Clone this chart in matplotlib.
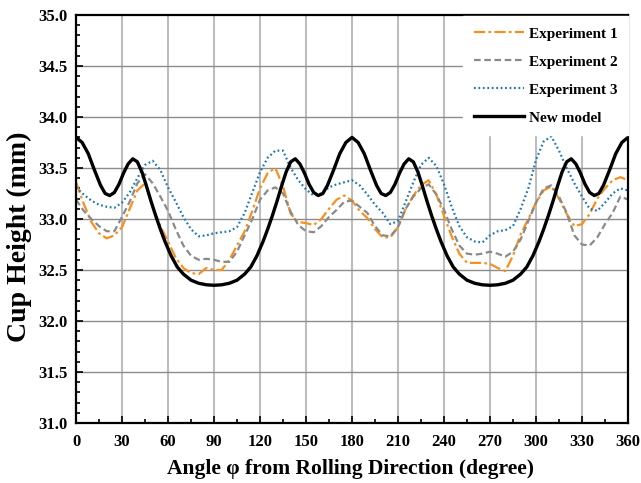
import matplotlib.pyplot as plt
from matplotlib.ticker import MultipleLocator

# angle (degree) for the experiments, every 5 degrees
angle = list(range(0, 365, 5))

exp1 = [33.36, 33.15, 32.97, 32.86, 32.81, 32.84, 32.92, 33.10, 33.28, 33.35,
        33.12, 32.93, 32.78, 32.62, 32.52, 32.47, 32.46, 32.52, 32.50, 32.50,
        32.60, 32.74, 32.88, 33.08, 33.30, 33.45, 33.50, 33.32, 33.05, 32.97,
        32.96, 32.94, 33.00, 33.10, 33.19, 33.23, 33.18, 33.08, 33.01, 32.90,
        32.82, 32.82, 32.92, 33.10, 33.23, 33.33, 33.38, 33.24, 33.03, 32.83,
        32.66, 32.57, 32.57, 32.57, 32.56, 32.52, 32.49, 32.64, 32.85, 33.00,
        33.16, 33.28, 33.32, 33.20, 33.05, 32.93, 32.95, 33.05, 33.20, 33.30,
        33.38, 33.41, 33.38]

exp2 = [33.19, 33.08, 33.00, 32.93, 32.88, 32.88, 33.02, 33.17, 33.35, 33.44,
        33.35, 33.22, 33.08, 32.90, 32.74, 32.64, 32.60, 32.61, 32.60, 32.58,
        32.58, 32.68, 32.84, 33.00, 33.19, 33.28, 33.31, 33.25, 33.07, 32.94,
        32.88, 32.87, 32.93, 33.02, 33.09, 33.17, 33.18, 33.12, 33.06, 32.93,
        32.84, 32.83, 32.92, 33.10, 33.22, 33.30, 33.34, 33.24, 33.09, 32.90,
        32.74, 32.66, 32.65, 32.66, 32.68, 32.66, 32.63, 32.68, 32.80, 32.98,
        33.16, 33.30, 33.33, 33.22, 33.06, 32.84, 32.75, 32.74, 32.82, 32.95,
        33.06, 33.22, 33.19]

exp3 = [33.31, 33.24, 33.18, 33.14, 33.12, 33.11, 33.16, 33.26, 33.40, 33.53,
        33.57, 33.48, 33.31, 33.17, 33.02, 32.90, 32.83, 32.84, 32.86, 32.87,
        32.88, 32.92, 33.06, 33.26, 33.46, 33.60, 33.67, 33.67, 33.50, 33.38,
        33.29, 33.23, 33.25, 33.31, 33.34, 33.36, 33.38, 33.33, 33.24, 33.14,
        33.06, 32.95, 32.98, 33.17, 33.36, 33.53, 33.60, 33.52, 33.34, 33.12,
        32.93, 32.82, 32.78, 32.77, 32.84, 32.88, 32.89, 32.93, 33.10, 33.30,
        33.58, 33.76, 33.81, 33.67, 33.50, 33.35, 33.22, 33.10, 33.08, 33.16,
        33.25, 33.30, 33.28]

# new model, read at denser angles
model_angle = [0, 4, 8, 12, 16, 19, 22, 25, 28, 31, 34, 37, 40, 43, 46, 49, 52,
               55, 58, 62, 66, 70, 75, 80, 85, 90, 95, 100, 105, 110, 114, 118,
               122, 125, 128, 131, 134, 137, 140, 143, 146, 149, 152, 155, 158,
               161, 164, 168, 172, 176, 180, 184, 188, 192, 196, 199, 202, 205,
               208, 211, 214, 217, 220, 223, 226, 229, 232, 235, 238, 242, 246,
               250, 255, 260, 265, 270, 275, 280, 285, 290, 294, 298, 302, 305,
               308, 311, 314, 317, 320, 323, 326, 329, 332, 335, 338, 341, 344,
               348, 352, 356, 360]
model = [33.80, 33.75, 33.64, 33.48, 33.33, 33.25, 33.23, 33.26, 33.34, 33.45,
         33.54, 33.59, 33.56, 33.46, 33.32, 33.17, 33.03, 32.90, 32.78, 32.64,
         32.53, 32.46, 32.40, 32.37, 32.355, 32.35, 32.355, 32.37, 32.40, 32.46,
         32.53, 32.64, 32.78, 32.90, 33.03, 33.17, 33.32, 33.46, 33.56, 33.59,
         33.54, 33.45, 33.34, 33.26, 33.23, 33.25, 33.33, 33.48, 33.64, 33.75,
         33.80, 33.75, 33.64, 33.48, 33.33, 33.25, 33.23, 33.26, 33.34, 33.45,
         33.54, 33.59, 33.56, 33.46, 33.32, 33.17, 33.03, 32.90, 32.78, 32.64,
         32.53, 32.46, 32.40, 32.37, 32.355, 32.35, 32.355, 32.37, 32.40, 32.46,
         32.53, 32.64, 32.78, 32.90, 33.03, 33.17, 33.32, 33.46, 33.56, 33.59,
         33.54, 33.45, 33.34, 33.26, 33.23, 33.25, 33.33, 33.48, 33.64, 33.75,
         33.80]

plt.rcParams["font.family"] = "Liberation Serif"
plt.rcParams["font.weight"] = "bold"

fig = plt.figure(figsize=(6.41, 4.83), dpi=100)
ax = fig.add_axes([0.1186, 0.1242, 0.8611, 0.8448])

ax.plot(angle, exp1, color="#f7901e", lw=1.6,
        linestyle=(0, (5, 1.5, 1.2, 1.5)), label="Experiment 1")
ax.plot(angle, exp2, color="#8a8a8a", lw=1.6,
        linestyle=(0, (3, 1.6)), label="Experiment 2")
ax.plot(angle, exp3, color="#1f77b4", lw=1.6,
        linestyle=(0, (0.8, 1.2)), label="Experiment 3")
ax.plot(model_angle, model, color="black", lw=2.4, label="New model")

ax.set_xlim(0, 360)
ax.set_ylim(31, 35)
ax.xaxis.set_major_locator(MultipleLocator(30))
ax.xaxis.set_minor_locator(MultipleLocator(15))
ax.yaxis.set_major_locator(MultipleLocator(0.5))
ax.yaxis.set_minor_locator(MultipleLocator(0.1))
ax.yaxis.set_major_formatter(plt.FormatStrFormatter("%.1f"))

# grid lines
for v in range(30, 360, 30):
    ax.axvline(v, color="#bdbdbd", lw=1.5, zorder=0)
for v in [31.5, 32.0, 32.5, 33.0, 33.5, 34.0, 34.5]:
    ax.axhline(v, color="#8c8c8c", lw=1.0, zorder=0)

ax.tick_params(which="both", direction="in", width=1.2, labelsize=12,
               top=False, right=False)
ax.tick_params(which="major", length=5)
ax.tick_params(axis="x", which="major", pad=8)
ax.tick_params(axis="y", which="major", pad=6)
ax.tick_params(which="minor", length=3)
for s in ax.spines.values():
    s.set_linewidth(1.6)

ax.set_xlabel("Angle φ from Rolling Direction (degree)", fontsize=15.5,
              fontweight="bold")
ax.xaxis.set_label_coords(0.498, -0.088)
ax.set_ylabel("Cup Height (mm)", fontsize=20, fontweight="bold")
ax.yaxis.set_label_coords(-0.08, 0.456)

leg = ax.legend(loc="upper right", bbox_to_anchor=(1.0, 0.997),
                borderaxespad=0, borderpad=0.7, fancybox=False, framealpha=1,
                edgecolor="white", handlelength=3.3, handletextpad=0.3,
                labelspacing=0.94, prop={"size": 11, "weight": "bold"})
leg.set_zorder(5)

fig.savefig("out.png", dpi=100)
